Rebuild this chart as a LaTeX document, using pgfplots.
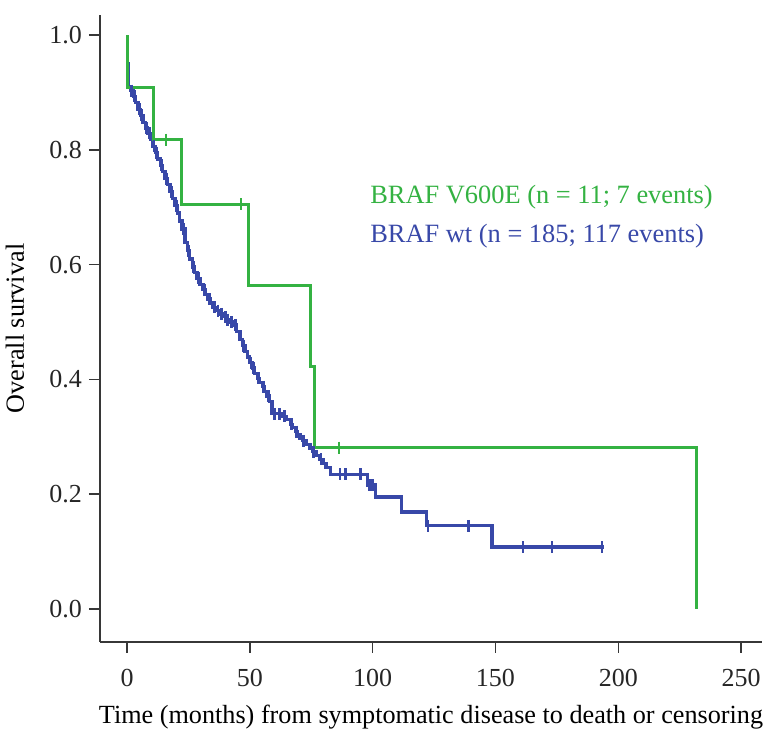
\documentclass[border=0pt]{standalone}
\usepackage{fontspec}
\setmainfont{Liberation Serif}
\usepackage{pgfplots}
\pgfplotsset{compat=1.18}

\definecolor{kmgreen}{RGB}{52,178,66}
\definecolor{kmblue}{RGB}{56,72,168}
\definecolor{axgray}{RGB}{55,55,55}

\begin{document}
\begin{tikzpicture}
\begin{axis}[
    name=ax,
    scale only axis,
    width=331pt, height=313.5pt,
    xmin=-11, xmax=258.5,
    ymin=-0.0575, ymax=1.035,
    axis x line=bottom, axis y line=left,
    axis line style={-, axgray, line width=0.8pt},
    tick align=outside,
    major tick length=5.5pt,
    tick style={axgray, line width=0.8pt},
    xtick={0,50,100,150,200,250},
    ytick={0,0.2,0.4,0.6,0.8,1.0},
    yticklabel style={/pgf/number format/.cd, fixed, fixed zerofill, precision=1},
    /pgf/number format/assume math mode=true,
    ticklabel style={font=\fontsize{13}{15}\selectfont, text=black!85},
    xticklabel style={yshift=-4.5pt},
    xlabel={Time (months) from symptomatic disease to death or censoring},
    ylabel={Overall survival},
    label style={font=\fontsize{13.1}{15}\selectfont},
    xlabel style={at={(axis description cs:0.5,-0.1196)}, anchor=center},
    ylabel style={at={(axis description cs:-0.1284,0.5)}, anchor=center},
    clip=false,
]

% BRAF wt, Kaplan-Meier steps
\addplot[const plot, kmblue, line width=1.6pt] coordinates {
(0.3,0.950) (0.6,0.909) (1.5,0.903) (2.5,0.893) (3.5,0.882) (4.5,0.871)
(5.5,0.860) (6.5,0.848) (7.5,0.838) (8.5,0.829) (9.5,0.818) (10.5,0.806)
(11.5,0.795) (12.5,0.784) (13.5,0.773) (14.5,0.762) (15.5,0.750) (16.5,0.739)
(17.5,0.727) (18.5,0.715) (19.5,0.703) (20.5,0.690) (21.5,0.676) (22.4,0.662)
(23.6,0.638) (24.5,0.624) (25.5,0.610) (26.5,0.596) (27.5,0.586) (28.5,0.576)
(29.7,0.566) (30.9,0.556) (32,0.548) (33,0.540) (34,0.533) (35,0.526)
(36.5,0.520) (38,0.514) (39.1,0.509) (40.5,0.504) (42,0.500) (43.2,0.495)
(44.5,0.484) (46,0.469) (47,0.459) (48,0.449) (49,0.439) (50,0.429)
(51,0.420) (52,0.411) (53,0.402) (54,0.394) (55,0.387) (56,0.379)
(57,0.371) (58,0.362) (59,0.340) (63,0.336) (65,0.330) (66.4,0.322)
(67.5,0.316) (68.5,0.309) (69.5,0.303) (70.4,0.298) (71.5,0.293) (73,0.286)
(74.5,0.280) (75.7,0.274) (77,0.268) (78.5,0.261) (79.8,0.254) (81,0.246)
(82.7,0.235) (98,0.216) (101,0.195) (111.6,0.169) (122,0.145) (148.6,0.108)
(194,0.108)
};
% BRAF wt, censored
\addplot[only marks, mark=|, mark size=3pt, kmblue, mark options={line width=1.4pt}] coordinates {
(1.8,0.903) (3.0,0.893) (5.0,0.871) (6.0,0.860) (8.0,0.838) (9.0,0.829)
(11.0,0.806) (12.0,0.795) (14.0,0.773) (16.0,0.750) (18.0,0.727) (20.0,0.703)
(23.0,0.662) (25.0,0.624) (27.0,0.596) (29.0,0.576) (31.5,0.556) (33.5,0.540)
(35.5,0.526) (37.0,0.520) (38.5,0.514) (40.0,0.509) (41.0,0.504) (42.5,0.500)
(44.0,0.495) (47.5,0.459) (50.5,0.429) (51.5,0.420) (53.5,0.402) (55.5,0.387)
(57.5,0.371) (60,0.340) (62,0.340) (64,0.336) (67,0.322) (69,0.309)
(72,0.293) (76,0.274) (79,0.261)
(86.7,0.235) (88.8,0.235) (94.9,0.235) (98.8,0.216) (100,0.216)
(122.5,0.145) (139,0.145) (161.2,0.108) (173,0.108) (193.4,0.108)
};

% BRAF V600E, Kaplan-Meier steps
\addplot[const plot, kmgreen, line width=1.5pt] coordinates {
(0,1.0) (0,0.909) (10.6,0.818) (22,0.705) (49.3,0.563) (74.5,0.422)
(76.5,0.281) (231.7,0)
};
% BRAF V600E, censored
\addplot[only marks, mark=|, mark size=3pt, kmgreen, mark options={line width=1.3pt}] coordinates {
(15.9,0.818) (46.4,0.705) (86.3,0.281)
};

\node[anchor=west, text=kmgreen, font=\fontsize{13.2}{15}\selectfont, inner sep=0pt]
    at (axis cs:98.9,0.718) {BRAF V600E (n = 11; 7 events)};
\node[anchor=west, text=kmblue, font=\fontsize{13.2}{15}\selectfont, inner sep=0pt]
    at (axis cs:98.9,0.650) {BRAF wt (n = 185; 117 events)};
\end{axis}
\pgfresetboundingbox
\path ([xshift=-50pt,yshift=-44pt]ax.south west) rectangle ([xshift=1pt,yshift=7.5pt]ax.north east);
\end{tikzpicture}
\end{document}
